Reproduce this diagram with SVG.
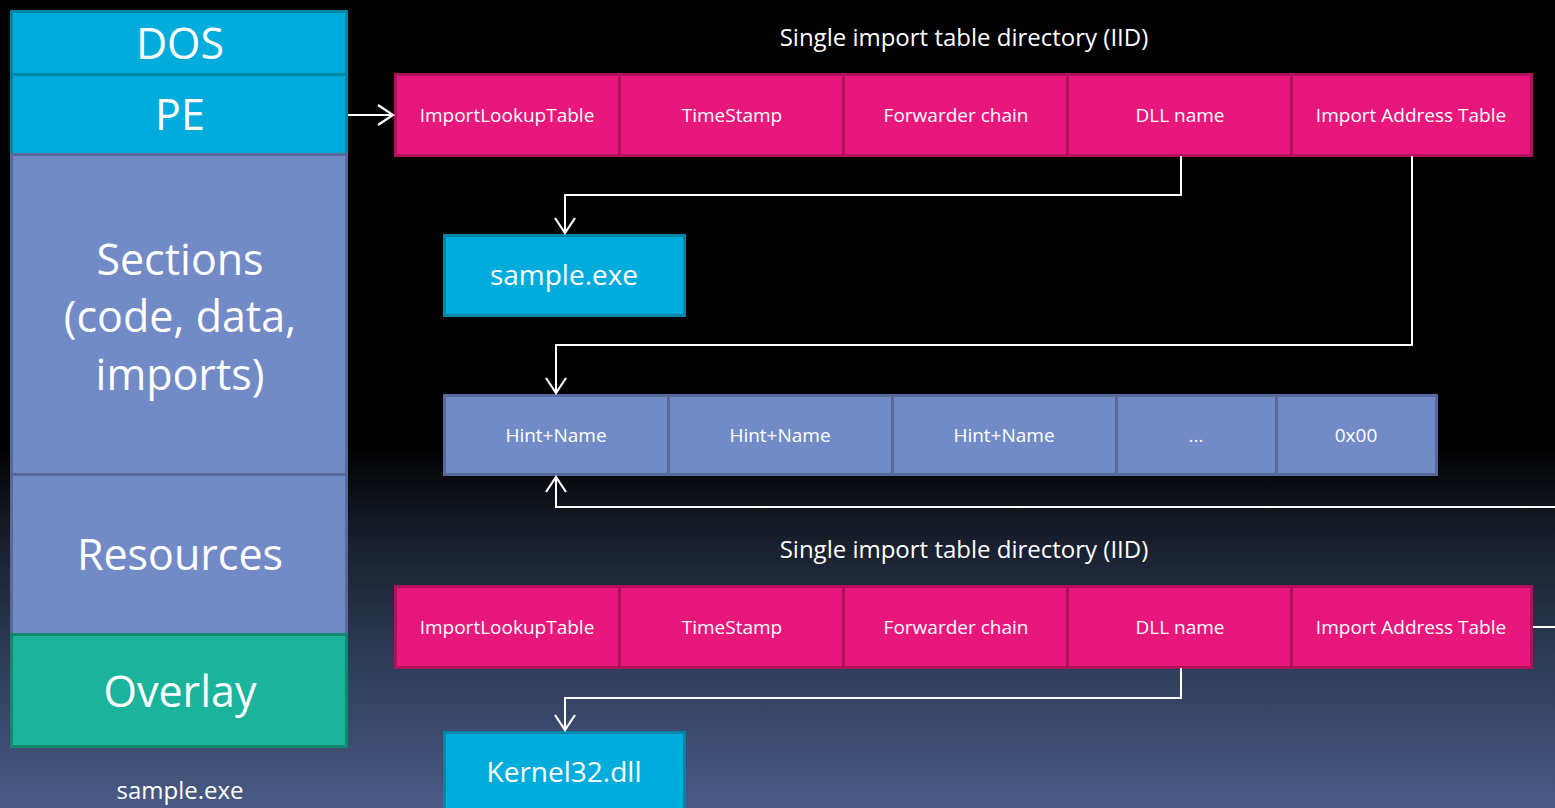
<svg xmlns="http://www.w3.org/2000/svg" width="1555" height="808" viewBox="0 0 1555 808">
  <defs>
    <linearGradient id="bg" x1="0" y1="0" x2="0" y2="1">
      <stop offset="0" stop-color="#000000"/>
      <stop offset="0.55" stop-color="#000000"/>
      <stop offset="0.68" stop-color="#1a2130"/>
      <stop offset="0.82" stop-color="#2f3c58"/>
      <stop offset="1" stop-color="#495b85"/>
    </linearGradient>
    <marker id="arr" viewBox="-18 -12 20 24" markerWidth="20" markerHeight="24" refX="0" refY="0" orient="auto" markerUnits="userSpaceOnUse">
      <path d="M-15,-10 L0,0 L-15,10" fill="none" stroke="#ffffff" stroke-width="2.2"/>
    </marker>
    <style>
      .cyan { fill: #00acdc; stroke: #0085a8; stroke-width: 3; }
      .blue { fill: #728ac6; stroke: #58699c; stroke-width: 3; }
      .teal { fill: #1bb39c; stroke: #14876f; stroke-width: 3; }
      .pink { fill: #e8177b; stroke: #b20f5c; stroke-width: 3; }
      .big { font-family: "Open Sans", "Noto Sans", sans-serif; font-size: 43px; fill: #ffffff; text-anchor: middle; }
      .mid { font-family: "Open Sans", "Noto Sans", sans-serif; font-size: 28px; fill: #ffffff; text-anchor: middle; }
      .cell { font-family: "Open Sans", "Noto Sans", sans-serif; font-size: 19px; fill: #ffffff; text-anchor: middle; }
      .hint { font-family: "Open Sans", "Noto Sans", sans-serif; font-size: 19px; fill: #ffffff; text-anchor: middle; }
      .title { font-family: "Open Sans", "Noto Sans", sans-serif; font-size: 24px; fill: #ffffff; text-anchor: middle; }
      .conn { fill: none; stroke: #ffffff; stroke-width: 2; }
    </style>
  </defs>
  <rect x="0" y="0" width="1555" height="808" fill="url(#bg)"/>

  <g id="pe-file">
    <g id="dos"><rect class="cyan" x="11.5" y="11.5" width="335" height="63"/><text class="big" x="180" y="59">DOS</text></g>
    <g id="pe"><rect class="cyan" x="11.5" y="74.5" width="335" height="80"/><text class="big" x="180" y="130">PE</text></g>
    <g id="sections"><rect class="blue" x="11.5" y="154.5" width="335" height="320"/>
      <text class="big" x="180" y="275">Sections</text>
      <text class="big" x="180" y="332">(code, data,</text>
      <text class="big" x="180" y="390">imports)</text></g>
    <g id="resources"><rect class="blue" x="11.5" y="474.5" width="335" height="160"/><text class="big" x="180" y="570">Resources</text></g>
    <g id="overlay"><rect class="teal" x="11.5" y="634.5" width="335" height="112"/><text class="big" x="180" y="707">Overlay</text></g>
    <text id="label-sample" class="title" x="180" y="799">sample.exe</text>
  </g>

  <text id="title1" class="title" x="964" y="46">Single import table directory (IID)</text>
  <g id="iid1">
    <rect class="pink" x="395.5" y="74.5" width="224" height="81"/>
    <rect class="pink" x="619.5" y="74.5" width="224" height="81"/>
    <rect class="pink" x="843.5" y="74.5" width="224" height="81"/>
    <rect class="pink" x="1067.5" y="74.5" width="224" height="81"/>
    <rect class="pink" x="1291.5" y="74.5" width="240" height="81"/>
    <text class="cell" x="507" y="122">ImportLookupTable</text>
    <text class="cell" x="732" y="122">TimeStamp</text>
    <text class="cell" x="956" y="122">Forwarder chain</text>
    <text class="cell" x="1180" y="122">DLL name</text>
    <text class="cell" x="1411" y="122">Import Address Table</text>
  </g>

  <g id="sample-exe"><rect class="cyan" x="444.5" y="235.5" width="240" height="80"/><text class="mid" x="564" y="285">sample.exe</text></g>

  <g id="hint-table">
    <rect class="blue" x="444.5" y="395.5" width="224" height="79"/>
    <rect class="blue" x="668.5" y="395.5" width="224" height="79"/>
    <rect class="blue" x="892.5" y="395.5" width="224" height="79"/>
    <rect class="blue" x="1116.5" y="395.5" width="160" height="79"/>
    <rect class="blue" x="1276.5" y="395.5" width="160" height="79"/>
    <text class="hint" x="556" y="442">Hint+Name</text>
    <text class="hint" x="780" y="442">Hint+Name</text>
    <text class="hint" x="1004" y="442">Hint+Name</text>
    <text class="hint" x="1196" y="442">...</text>
    <text class="hint" x="1356" y="442">0x00</text>
  </g>

  <text id="title2" class="title" x="964" y="558">Single import table directory (IID)</text>
  <g id="iid2">
    <rect class="pink" x="395.5" y="586.5" width="224" height="81"/>
    <rect class="pink" x="619.5" y="586.5" width="224" height="81"/>
    <rect class="pink" x="843.5" y="586.5" width="224" height="81"/>
    <rect class="pink" x="1067.5" y="586.5" width="224" height="81"/>
    <rect class="pink" x="1291.5" y="586.5" width="240" height="81"/>
    <text class="cell" x="507" y="634">ImportLookupTable</text>
    <text class="cell" x="732" y="634">TimeStamp</text>
    <text class="cell" x="956" y="634">Forwarder chain</text>
    <text class="cell" x="1180" y="634">DLL name</text>
    <text class="cell" x="1411" y="634">Import Address Table</text>
  </g>

  <g id="kernel32"><rect class="cyan" x="444.5" y="732.5" width="240" height="80"/><text class="mid" x="564" y="782">Kernel32.dll</text></g>

  <g id="connectors">
    <path class="conn" d="M348,115 L393,115" marker-end="url(#arr)"/>
    <path class="conn" d="M1181,156 L1181,195 L565,195 L565,233" marker-end="url(#arr)"/>
    <path class="conn" d="M1412,156 L1412,345 L556,345 L556,393" marker-end="url(#arr)"/>
    <path class="conn" d="M1533,627 L1562,627 L1562,507 L556,507 L556,477" marker-end="url(#arr)"/>
    <path class="conn" d="M1181,668 L1181,698 L565,698 L565,730" marker-end="url(#arr)"/>
  </g>
</svg>
